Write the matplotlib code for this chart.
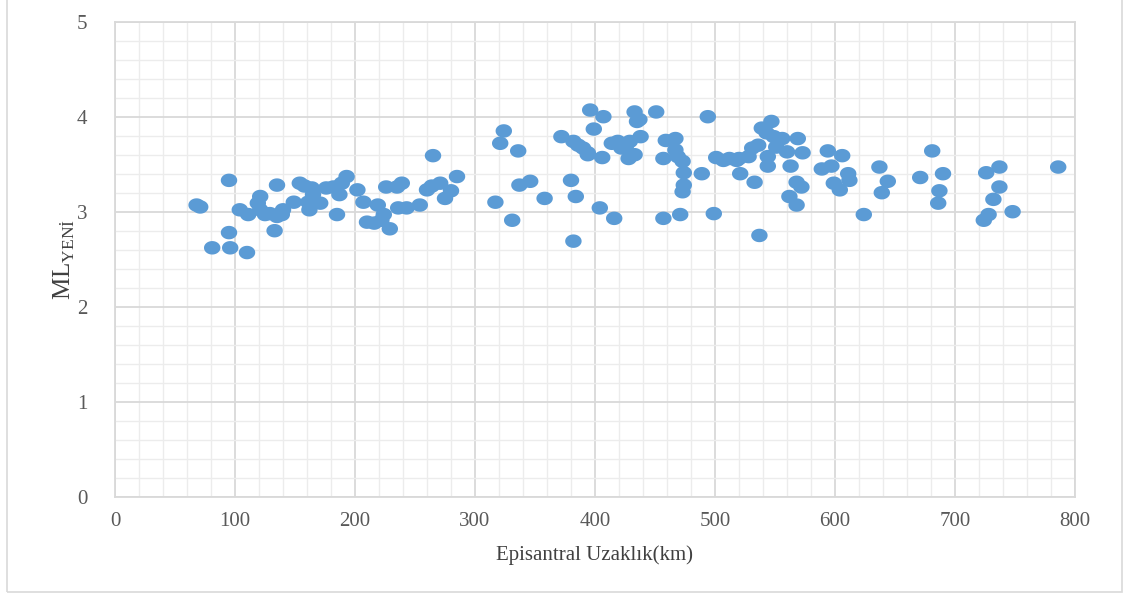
import matplotlib
matplotlib.use("Agg")
import matplotlib.pyplot as plt
import numpy as np
from matplotlib.path import Path
from matplotlib.patches import Rectangle
from matplotlib.ticker import MultipleLocator

plt.rcParams['font.family'] = ['Liberation Serif', 'DejaVu Serif']
plt.rcParams['mathtext.fontset'] = 'custom'
plt.rcParams['mathtext.rm'] = 'Liberation Serif'

# epicentral distance (km) and ML_YENI values
distance = [68, 71, 81, 95, 95, 96, 110, 104, 111, 121, 119, 121, 125, 129, 135, 133,
            135, 140, 139, 149, 154, 158, 164, 165, 161, 162, 171, 176, 182, 185, 187,
            193, 189, 202, 207, 210, 216, 219, 224, 222, 229, 226, 235, 239, 236, 243,
            254, 260, 264, 271, 265, 275, 280, 285, 317, 324, 321, 336, 331, 337, 346,
            358, 372, 380, 384, 382, 382, 386, 390, 394, 394, 396, 399, 407, 406, 404,
            416, 414, 419, 422, 426, 429, 428, 433, 433, 435, 437, 438, 451, 457, 457,
            459, 467, 467, 469, 473, 474, 474, 473, 471, 489, 494, 499, 501, 507, 512,
            518, 520, 528, 531, 536, 521, 533, 537, 539, 543, 547, 549, 556, 551, 544,
            544, 569, 560, 573, 563, 568, 572, 562, 568, 589, 597, 594, 606, 599, 604,
            611, 612, 624, 637, 644, 639, 671, 681, 690, 687, 686, 726, 737, 737, 732,
            728, 724, 748, 786]
ml_yeni = [3.07, 3.05, 2.62, 3.33, 2.78, 2.62, 2.57, 3.02, 2.97, 3.16, 3.09, 3.02, 2.97,
           2.98, 3.28, 2.80, 2.95, 3.02, 2.97, 3.10, 3.30, 3.27, 3.25, 3.18, 3.10, 3.02,
           3.09, 3.25, 3.26, 2.97, 3.18, 3.37, 3.30, 3.23, 3.10, 2.89, 2.88, 3.07, 2.97,
           2.91, 2.82, 3.26, 3.26, 3.30, 3.04, 3.04, 3.07, 3.23, 3.27, 3.30, 3.59, 3.14,
           3.22, 3.37, 3.10, 3.85, 3.72, 3.64, 2.91, 3.28, 3.32, 3.14, 3.79, 3.33, 3.16,
           2.69, 3.74, 3.70, 3.67, 3.62, 3.60, 4.07, 3.87, 4.00, 3.57, 3.04, 2.93, 3.72,
           3.74, 3.67, 3.70, 3.74, 3.56, 3.60, 4.05, 3.95, 3.97, 3.79, 4.05, 3.56, 2.93,
           3.75, 3.77, 3.65, 3.58, 3.53, 3.41, 3.28, 3.21, 2.97, 3.40, 4.00, 2.98, 3.57,
           3.54, 3.56, 3.54, 3.56, 3.58, 3.67, 3.70, 3.40, 3.31, 2.75, 3.88, 3.83, 3.95,
           3.79, 3.77, 3.68, 3.58, 3.48, 3.77, 3.63, 3.62, 3.48, 3.31, 3.26, 3.16, 3.07,
           3.45, 3.48, 3.64, 3.59, 3.30, 3.23, 3.40, 3.33, 2.97, 3.47, 3.32, 3.20, 3.36,
           3.64, 3.40, 3.22, 3.09, 3.41, 3.47, 3.26, 3.13, 2.97, 2.91, 3.00, 3.47]

x_ticks = [0, 100, 200, 300, 400, 500, 600, 700, 800]
y_ticks = [0, 1, 2, 3, 4, 5]

# slightly flattened ellipse marker like the excel one
t = np.linspace(0, 2 * np.pi, 60)
ellipse = Path(np.column_stack([np.cos(t), 0.82 * np.sin(t)]), closed=True)

fig = plt.figure(figsize=(11.3, 5.96), dpi=100)
fig.patches.append(Rectangle((7 / 1130, 4 / 596), 1115 / 1130, 600 / 596,
                             transform=fig.transFigure, fill=False,
                             edgecolor='#D9D9D9', linewidth=1.2))
ax = fig.add_axes([115 / 1130, 1 - 496.7 / 596, 960 / 1130, 475 / 596])

ax.scatter(distance, ml_yeni, marker=ellipse, s=140, color='#5B9BD5',
           edgecolors='none', zorder=3)

ax.set_xlim(0, 800)
ax.set_ylim(0, 5)
ax.set_xticks(x_ticks)
ax.set_yticks(y_ticks)
ax.xaxis.set_minor_locator(MultipleLocator(20))
ax.yaxis.set_minor_locator(MultipleLocator(0.2))
ax.grid(which='major', color='#D9D9D9', linewidth=1.3, zorder=1)
ax.grid(which='minor', color='#ECECEC', linewidth=1.0, zorder=0)
ax.set_axisbelow(True)
for s in ax.spines.values():
    s.set_color('#D9D9D9')
    s.set_linewidth(1.3)

ax.tick_params(which='both', length=0, colors='#595959', labelsize=15)
ax.tick_params(axis='y', pad=20)
ax.tick_params(axis='x', pad=11)

ax.set_xlabel('Episantral Uzaklık(km)', fontsize=15, color='#404040', labelpad=10)
ax.set_ylabel('ML$_{\\mathregular{YENİ}}$', fontsize=18, color='#404040', labelpad=0)

fig.savefig('out.png', dpi=100)
